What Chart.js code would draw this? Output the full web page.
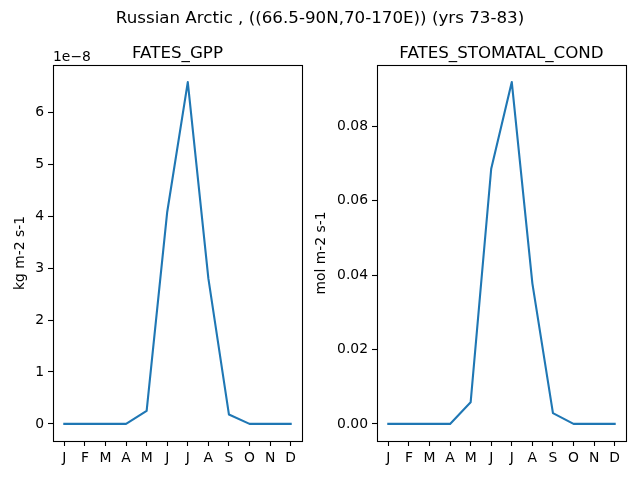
<!DOCTYPE html>
<html>
<head>
<meta charset="utf-8">
<script src="https://cdn.jsdelivr.net/npm/chart.js@4.4.0/dist/chart.umd.min.js"></script>
<style>
    body { margin: 0; background: #fff; font-family: 'DejaVu Sans', sans-serif; }
    .wrap { position: relative; width: 640px; height: 480px; overflow: hidden; }
    .wrap canvas { position: absolute; left: 0; top: 0; }
    .txt { position: absolute; color: #000; white-space: nowrap; transform: translate(-50%, -50%); }
    .sup { left: 320px; top: 17px; font-size: 16.7px; }
    .ttl { top: 52px; font-size: 16.7px; }
    .offset { position: absolute; left: 53px; top: 48px; font-size: 13.9px; }
</style>
</head>
<body>
<div class="wrap">
    <canvas id="gppChart" width="640" height="480"></canvas>
    <canvas id="condChart" width="640" height="480"></canvas>
    <div class="txt sup">Russian Arctic , ((66.5-90N,70-170E)) (yrs 73-83)</div>
    <div class="txt ttl" style="left:177.5px">FATES_GPP</div>
    <div class="txt ttl" style="left:501.5px">FATES_STOMATAL_COND</div>
    <div class="offset">1e−8</div>
</div>
<script>
const months = ['J', 'F', 'M', 'A', 'M', 'J', 'J', 'A', 'S', 'O', 'N', 'D'];
// FATES_GPP in units of 1e-8 kg m-2 s-1
const gppValues = [0, 0, 0, 0, 0.25, 4.08, 6.58, 2.8, 0.18, 0, 0, 0];
const gppTicks = [0, 1, 2, 3, 4, 5, 6];
// FATES_STOMATAL_COND in mol m-2 s-1
const condValues = [0, 0, 0, 0, 0.0058, 0.0686, 0.0919, 0.0378, 0.0029, 0, 0, 0];
const condTicks = [0, 0.02, 0.04, 0.06, 0.08];

const FONT = 'DejaVu Sans';

const boxPlugin = {
    id: 'box',
    afterDraw(chart) {
        const a = chart.chartArea;
        const ctx = chart.ctx;
        ctx.save();
        ctx.strokeStyle = '#000';
        ctx.lineWidth = 1.1;
        ctx.strokeRect(Math.round(a.left) + 0.5, Math.round(a.top) + 0.5,
            Math.round(a.right - a.left), Math.round(a.bottom - a.top));
        ctx.restore();
    }
};

function makeChart(id, values, ticks, digits, yLabel, padLeft, padRight, yWidth) {
    const span = Math.max(...values) - Math.min(...values);
    const margin = span * 0.05;
    new Chart(document.getElementById(id), {
        type: 'line',
        data: {
            datasets: [{
                data: values.map((v, i) => ({ x: i, y: v })),
                borderColor: '#1f77b4',
                borderWidth: 2.1,
                borderJoinStyle: 'round',
                borderCapStyle: 'square',
                pointRadius: 0,
                tension: 0,
                fill: false
            }]
        },
        options: {
            responsive: false,
            animation: false,
            devicePixelRatio: 1,
            layout: { padding: { left: padLeft, right: padRight, top: 65, bottom: 0 } },
            plugins: {
                legend: { display: false },
                tooltip: { enabled: false }
            },
            scales: {
                x: {
                    type: 'linear',
                    min: -0.55,
                    max: months.length - 1 + 0.55,
                    afterBuildTicks: axis => { axis.ticks = months.map((m, i) => ({ value: i })); },
                    afterFit: axis => { axis.height = 39; },
                    ticks: {
                        autoSkip: false,
                        maxRotation: 0,
                        padding: 4,
                        color: '#000',
                        font: { family: FONT, size: 13.9 },
                        callback: v => months[v]
                    },
                    grid: { drawOnChartArea: false, tickLength: 5, tickColor: '#000', tickWidth: 1.1 },
                    border: { display: false }
                },
                y: {
                    type: 'linear',
                    min: Math.min(...values) - margin,
                    max: Math.max(...values) + margin,
                    afterBuildTicks: axis => { axis.ticks = ticks.map(t => ({ value: t })); },
                    afterFit: axis => { axis.width = yWidth; },
                    ticks: {
                        padding: 4,
                        color: '#000',
                        font: { family: FONT, size: 13.9 },
                        callback: v => v.toFixed(digits)
                    },
                    grid: { drawOnChartArea: false, tickLength: 5, tickColor: '#000', tickWidth: 1.1 },
                    border: { display: false },
                    title: {
                        display: true,
                        text: yLabel,
                        color: '#000',
                        font: { family: FONT, size: 13.9 },
                        padding: { top: 12.5, bottom: 0 }
                    }
                }
            }
        },
        plugins: [boxPlugin]
    });
}

document.addEventListener('DOMContentLoaded', function() {
    makeChart('gppChart', gppValues, gppTicks, 0, 'kg m-2 s-1', 0, 338, 53);
    makeChart('condChart', condValues, condTicks, 2, 'mol m-2 s-1', 301, 14, 76);
});
</script>
</body>
</html>
